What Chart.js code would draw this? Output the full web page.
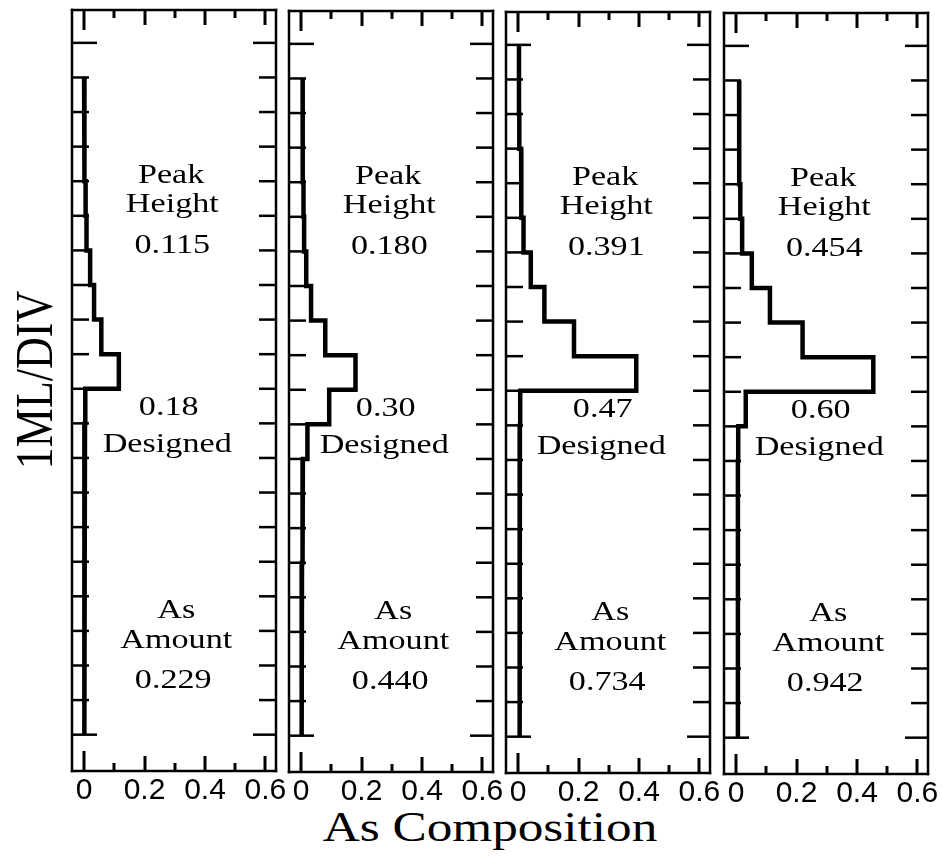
<!DOCTYPE html>
<html>
<head>
<meta charset="utf-8">
<title>As Composition profiles</title>
<script src="https://cdn.jsdelivr.net/npm/chart.js@4.4.1/dist/chart.umd.min.js"></script>
<style>
    html, body { margin: 0; padding: 0; background: #fff; }
    body { width: 942px; height: 860px; position: relative; overflow: hidden; }
    canvas { position: absolute; top: 0; }
    .title {
        position: absolute;
        font-family: "Liberation Serif", "Times New Roman", serif;
        color: #000;
        white-space: nowrap;
        line-height: 1;
    }
    #ytitle { left: 35px; top: 380px; font-size: 44px; transform: translate(-50%, -50%) rotate(-90deg) scaleY(1.22); }
    #xtitle { left: 490px; top: 806px; font-size: 42px; transform: translateX(-50%) scaleX(1.22); }
</style>
</head>
<body>
<div id="ytitle" class="title">1ML/DIV</div>
<div id="xtitle" class="title">As Composition</div>
<script>
// axis ticks
const compositionTicks = [0, 0.1, 0.2, 0.3, 0.4, 0.5, 0.6];
const compositionLabels = [0, 0.2, 0.4, 0.6];
const monolayerTicks = [0, 1, 2, 3, 4, 5, 6, 7, 8, 9, 10, 11, 12, 13, 14, 15, 16, 17, 18, 19, 20];

// As composition of each 1 ML layer (layer n spans n..n+1 ML, null = no data)
const profileA = [null, 0, 0, 0.003, 0.005, 0.008, 0.02, 0.033, 0.057, 0.115, 0.004, 0.003, 0.002, 0.002, 0.001, 0.001, 0, 0, 0, 0];
const profileB = [null, 0.005, 0.005, 0.006, 0.008, 0.01, 0.017, 0.033, 0.08, 0.18, 0.093, 0.021, 0.006, 0.005, 0.004, 0.003, 0.003, 0.002, 0.001, 0.001];
const profileC = [0.003, 0.003, 0.004, 0.01, 0.011, 0.018, 0.042, 0.087, 0.185, 0.391, 0.007, 0.006, 0.006, 0.005, 0.005, 0.005, 0.005, 0.005, 0.005, 0.005];
const profileD = [null, 0.01, 0.01, 0.011, 0.014, 0.02, 0.052, 0.112, 0.22, 0.454, 0.032, 0.007, 0.006, 0.006, 0.006, 0.006, 0.006, 0.006, 0.006, 0.006];

const peakHeight = ["0.115", "0.180", "0.391", "0.454"];
const designedComp = ["0.18", "0.30", "0.47", "0.60"];
const asAmount = ["0.229", "0.440", "0.734", "0.942"];

// layout
const panelLeft = [72, 289, 506, 724];
const panelTop = [10, 11, 12, 13];
const PANEL_W = 204;
const PANEL_H = 761;
const PAD = 25;
const AXIS_H = 40;
const STRETCH = 1.22;
const LW = 2.5;
const TICK_W = 3;

// note rows: baseline in ML units, centre in composition units
const noteY = [4.05, 4.88, 6.07, 10.75, 11.82, 16.62, 17.49, 18.64];
const noteX = [0.288, 0.292, 0.292, 0.28, 0.275, 0.305, 0.305, 0.295];

// turn layer values into a step outline
function stepPoints(profile) {
    const pts = [];
    profile.forEach((c, n) => {
        if (c === null) return;
        pts.push({ x: c, y: n }, { x: c, y: n + 1 });
    });
    return pts;
}

const framePlugin = {
    id: "frame",
    afterDraw(chart, args, opts) {
        const ctx = chart.ctx;
        const a = chart.chartArea;
        const xs = chart.scales.x;
        const ys = chart.scales.y;
        const h = LW / 2;
        ctx.save();
        ctx.fillStyle = "#000";

        // frame
        ctx.fillRect(a.left - h, a.top - h, a.right - a.left + LW, LW);
        ctx.fillRect(a.left - h, a.bottom - h, a.right - a.left + LW, LW);
        ctx.fillRect(a.left - h, a.top - h, LW, a.bottom - a.top + LW);
        ctx.fillRect(a.right - h, a.top - h, LW, a.bottom - a.top + LW);

        // composition ticks on top and bottom, pointing in
        compositionTicks.forEach(v => {
            const px = Math.round(xs.getPixelForValue(v)) - TICK_W / 2;
            const len = v === 0 ? 20 : (compositionLabels.includes(v) ? 15 : 8);
            ctx.fillRect(px, a.top, TICK_W, len);
            ctx.fillRect(px, a.bottom - len, TICK_W, len);
        });

        // 1 ML ticks on both sides
        monolayerTicks.forEach((v, i) => {
            const py = ys.getPixelForValue(v);
            const end = i === 0 || i === monolayerTicks.length - 1;
            ctx.fillRect(a.left, py - h, end ? 25 : 17, LW);
            const r = end ? 23 : 17;
            ctx.fillRect(a.right - r, py - h, r, LW);
        });

        // notes inside the panel
        ctx.font = '28px "Liberation Serif", "Times New Roman", serif';
        ctx.textAlign = "center";
        ctx.textBaseline = "alphabetic";
        opts.notes.forEach((s, k) => {
            ctx.save();
            ctx.translate(xs.getPixelForValue(noteX[k]), ys.getPixelForValue(noteY[k]));
            ctx.scale(STRETCH, 1);
            ctx.fillText(s, 0, 0);
            ctx.restore();
        });
        ctx.restore();
    }
};

[profileA, profileB, profileC, profileD].forEach((profile, i) => {
    const cv = document.createElement("canvas");
    cv.width = PANEL_W + 2 * PAD;
    cv.height = 860;
    cv.style.left = (panelLeft[i] - PAD) + "px";
    document.body.appendChild(cv);

    new Chart(cv.getContext("2d"), {
        type: "line",
        data: {
            datasets: [{
                data: stepPoints(profile),
                borderColor: "#000",
                borderWidth: 4.5,
                pointRadius: 0,
                fill: false,
                tension: 0
            }]
        },
        options: {
            responsive: false,
            animation: false,
            devicePixelRatio: 1,
            layout: {
                padding: {
                    left: PAD,
                    right: PAD,
                    top: panelTop[i],
                    bottom: 860 - panelTop[i] - PANEL_H - AXIS_H
                }
            },
            plugins: {
                legend: { display: false },
                tooltip: { enabled: false },
                frame: {
                    notes: ["Peak", "Height", peakHeight[i], designedComp[i], "Designed", "As", "Amount", asAmount[i]]
                }
            },
            scales: {
                x: {
                    type: "linear",
                    min: -0.04,
                    max: 0.635,
                    afterBuildTicks: s => { s.ticks = compositionLabels.map(v => ({ value: v })); },
                    afterFit: s => { s.height = AXIS_H; },
                    grid: { display: false, drawTicks: false },
                    border: { display: false },
                    ticks: {
                        autoSkip: false,
                        maxRotation: 0,
                        padding: 2,
                        color: "#000",
                        font: { family: "Liberation Sans", size: 30 },
                        callback: v => v === 0 ? "0" : v.toFixed(1)
                    }
                },
                y: {
                    type: "linear",
                    reverse: true,
                    min: -0.95,
                    max: 21.05,
                    display: false
                }
            }
        },
        plugins: [framePlugin]
    });
});
</script>
</body>
</html>
